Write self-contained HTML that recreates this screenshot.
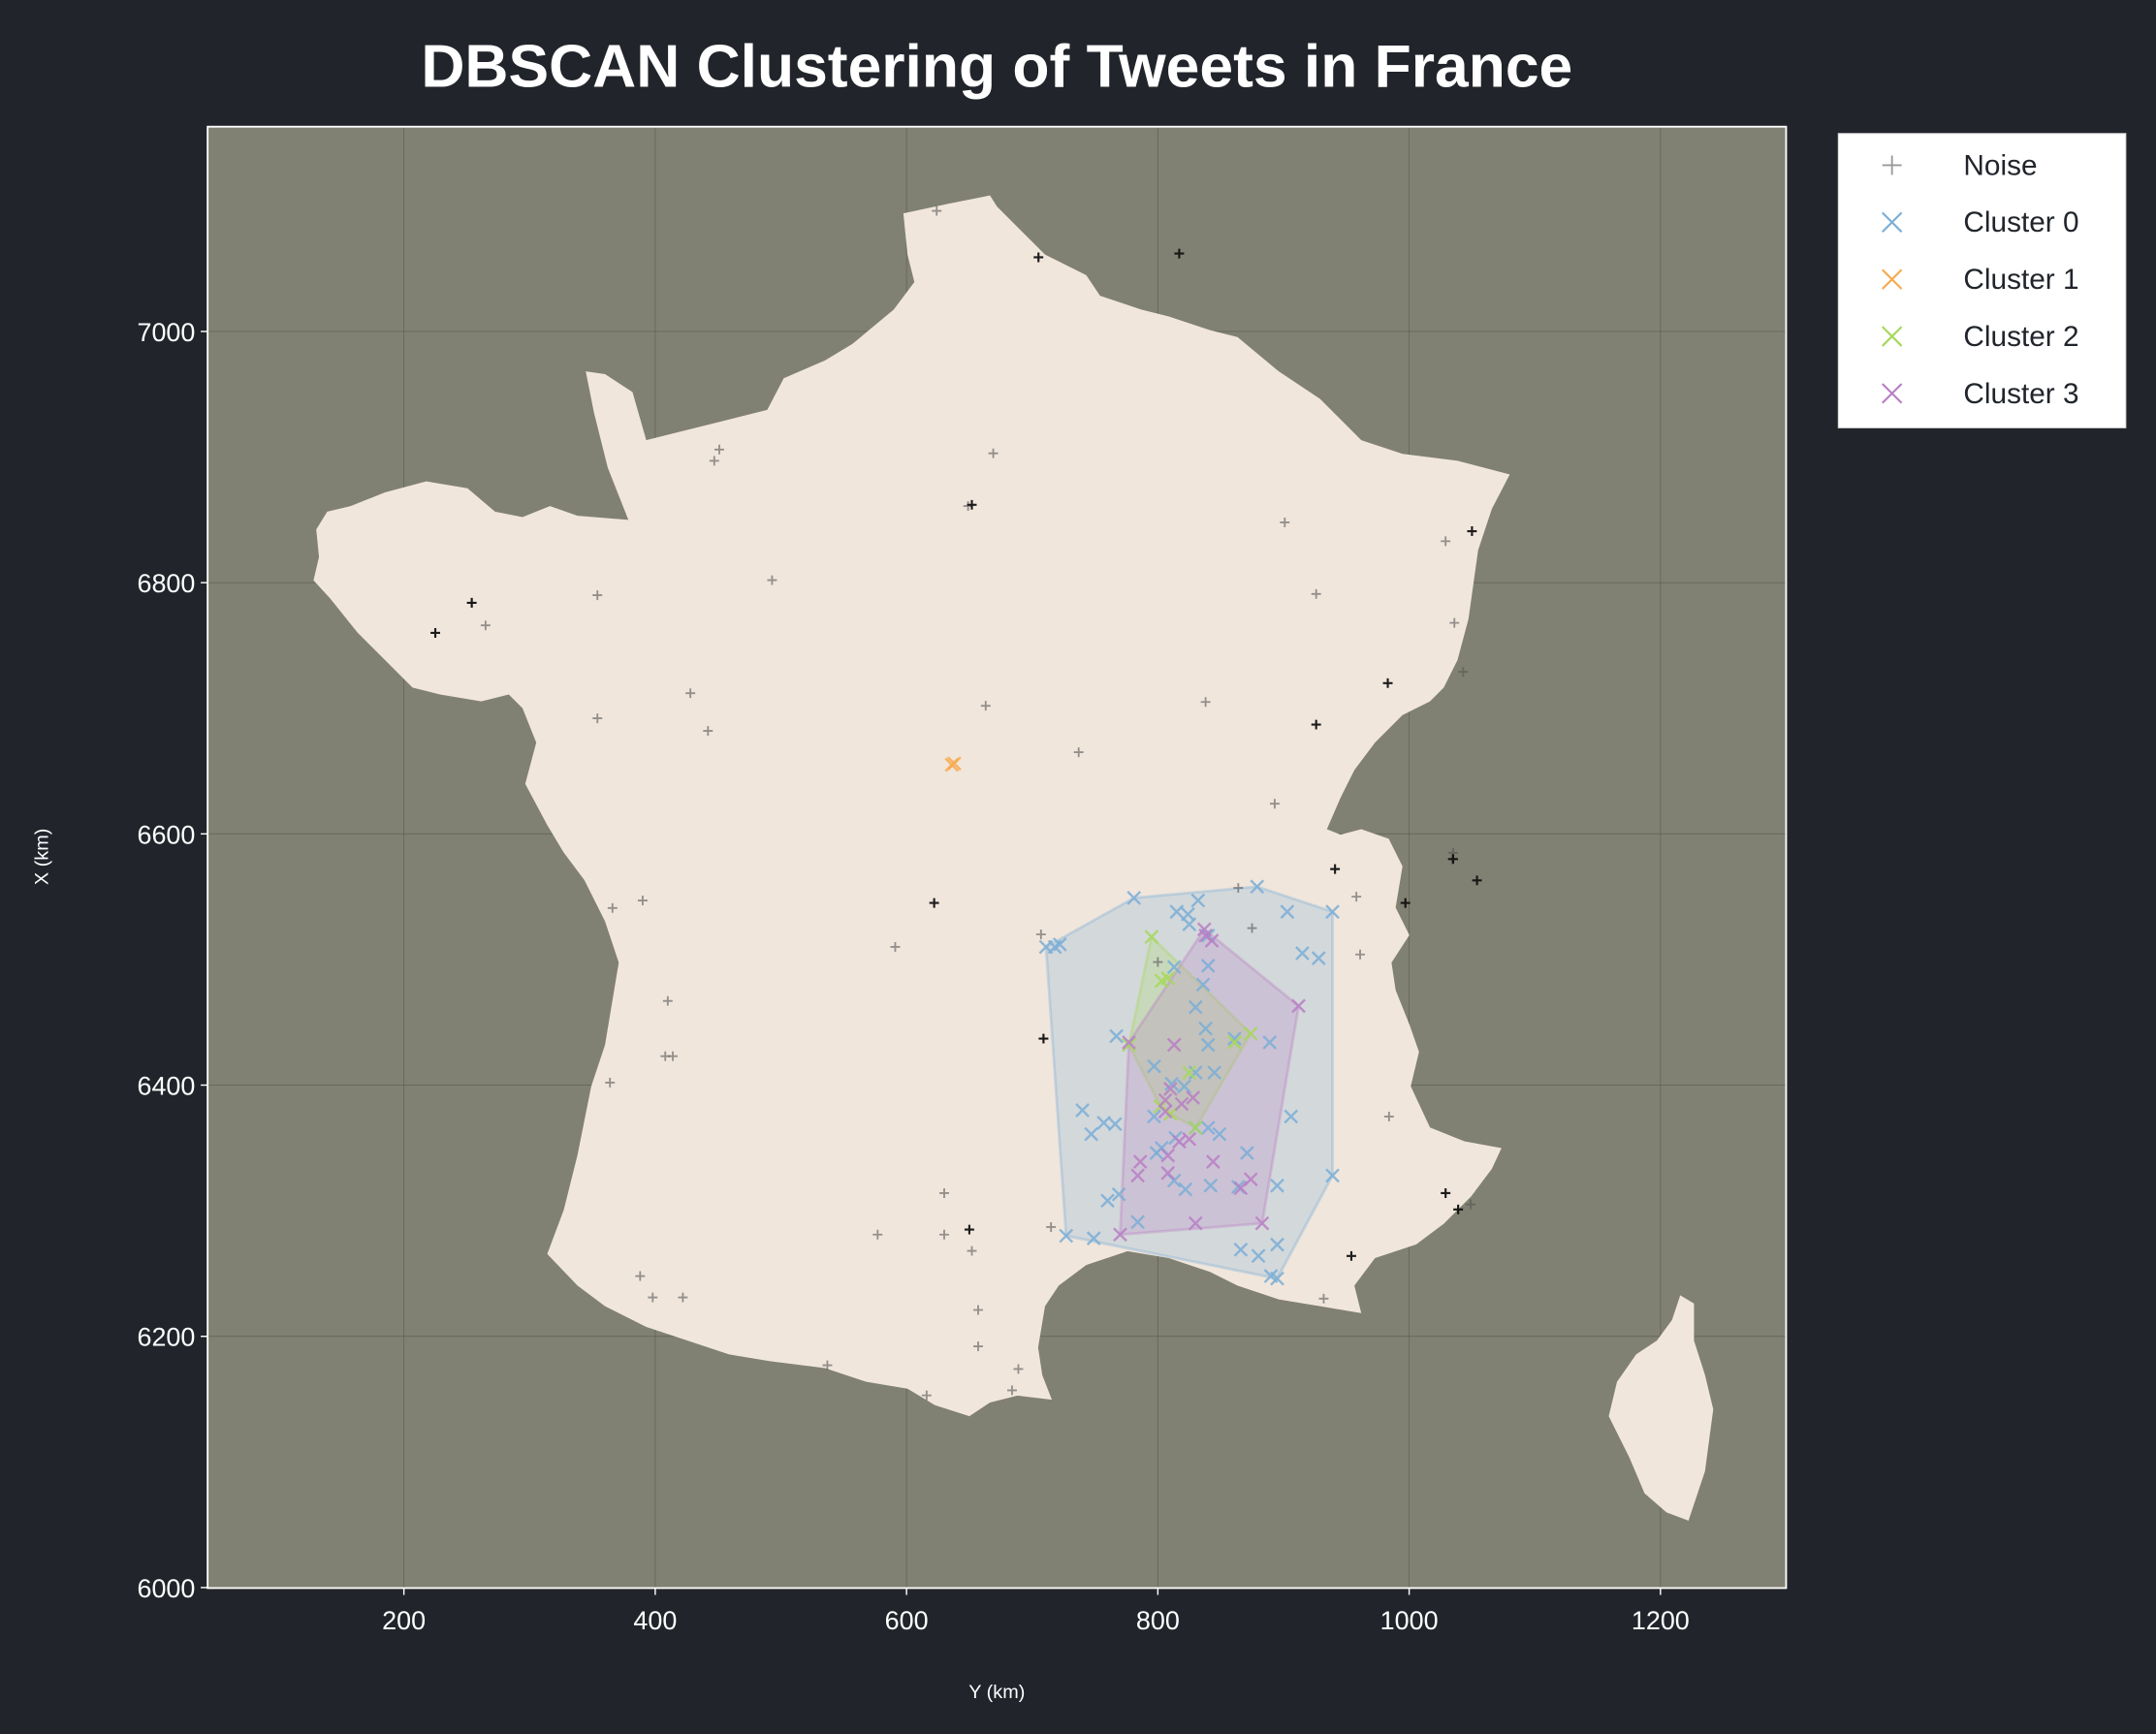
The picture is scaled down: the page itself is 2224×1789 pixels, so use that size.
<!DOCTYPE html>
<html><head><meta charset="utf-8">
<style>
html,body{margin:0;padding:0;background:#21252b;}
svg{display:block;}
text{font-family:"Liberation Sans","DejaVu Sans",sans-serif;}
</style></head>
<body>
<svg id="chart" width="2224" height="1789" viewBox="0 0 1568 1261" xmlns="http://www.w3.org/2000/svg">
<rect x="0" y="0" width="1568" height="1261" fill="#21252b"/>
<text x="725" y="63" text-anchor="middle" font-size="44" font-weight="bold" fill="#ffffff">DBSCAN Clustering of Tweets in France</text>
<rect x="151" y="92" width="1148" height="1063" fill="#808172"/>
<g id="grid"></g>
<g>
<path fill="#f1e6dc" d="M657,155 L690,148 L720,142 L725,150 L745,170 L760,185 L790,200 L800,215 L830,225 L850,230 L880,240 L900,245 L930,270 L960,290 L990,320 L1020,330 L1060,335 L1098,345 L1085,370 L1075,400 L1068,450 L1060,480 L1050,500 L1040,510 L1020,520 L1000,540 L985,560 L975,580 L965,603 L975,607 L990,603 L1010,610 L1020,630 L1015,660 L1025,680 L1012,700 L1015,720 L1025,745 L1032,765 L1026,790 L1040,820 L1065,830 L1092,835 L1085,850 L1070,870 L1050,890 L1030,905 L1000,915 L985,935 L990,955 L960,950 L930,945 L900,935 L880,925 L850,915 L820,910 L790,920 L770,935 L760,950 L755,980 L758,1000 L765,1018 L740,1015 L720,1020 L705,1030 L680,1022 L660,1010 L630,1005 L600,995 L560,990 L530,985 L500,975 L470,965 L440,950 L420,935 L398,912 L410,880 L420,840 L430,790 L440,760 L445,730 L450,700 L440,670 L425,640 L410,620 L398,600 L382,570 L390,540 L380,515 L370,505 L350,510 L320,505 L300,500 L280,480 L260,460 L240,435 L228,422 L232,405 L230,385 L238,372 L255,368 L280,358 L310,350 L340,355 L360,372 L380,376 L400,368 L420,375 L457,378 L442,340 L432,300 L426,270 L440,272 L460,285 L470,320 L490,315 L530,305 L558,298 L570,275 L600,262 L620,250 L650,225 L665,205 L660,185 Z"/>
<path fill="#f1e6dc" d="M1222,942 L1232,948 L1232,975 L1240,1000 L1246,1025 L1240,1070 L1228,1106 L1212,1100 L1196,1086 L1185,1060 L1170,1030 L1176,1005 L1190,985 L1205,975 L1216,960 Z"/>
</g>
<g id="hulls"></g>
<g id="marks"></g>
<rect x="151" y="92" width="1148" height="1063" fill="none" stroke="#ffffff" stroke-width="1.3"/>
<g id="axes"></g>
<text x="725" y="1235" text-anchor="middle" font-size="14" fill="#ffffff">Y (km)</text>
<text x="0" y="0" transform="translate(35,623) rotate(-90)" text-anchor="middle" font-size="14" fill="#ffffff">X (km)</text>
<g>
<rect x="1337" y="97" width="209" height="214" fill="#ffffff" stroke="#dddddd" stroke-width="0.8"/>
<g id="legend-items"></g>
</g>
</svg>
<script>
const xTicks=[200,400,600,800,1000,1200];
const yTicks=[6000,6200,6400,6600,6800,7000];
const noiseX=[624,451,447,669,649,254,265,354,493,428,442,354,663,737,838,901,1029,926,1036,1043,893,1035,1034,958,997,591,390,366,410,414,408,364,709,715,652,630,577,537,616,657,689,684,388,398,422,657,707,961,932,984,1039,1049,864,875,630,800];
const noiseY=[7096,6906,6897,6903,6861,6784,6766,6790,6802,6712,6682,6692,6702,6665,6705,6848,6833,6791,6768,6729,6624,6585,6580,6550,6545,6510,6547,6541,6467,6423,6423,6402,6437,6287,6268,6281,6281,6177,6153,6221,6174,6157,6248,6231,6231,6192,6520,6504,6230,6375,6301,6305,6557,6525,6314,6498];
const darkX=[705,817,652,254,225,1050,983,926,941,1054,997,622,709,650,954,1029,1039,1035];
const darkY=[7059,7062,6862,6784,6760,6841,6720,6687,6572,6563,6545,6545,6437,6285,6264,6314,6301,6580];
const c0X=[718,711,722,781,832,879,903,939,915,928,824,825,815,840,840,836,813,830,838,840,830,797,767,740,747,757,766,797,803,799,814,830,840,849,871,895,939,813,842,822,864,760,769,784,727,749,866,895,895,890,880,906,845,861,889,811,821];
const c0Y=[6510,6510,6512,6549,6547,6558,6538,6538,6505,6501,6536,6528,6538,6519,6495,6480,6494,6462,6445,6432,6410,6415,6439,6380,6361,6370,6369,6375,6350,6346,6358,6366,6366,6361,6346,6320,6328,6324,6320,6317,6319,6308,6313,6291,6280,6278,6269,6273,6246,6248,6264,6375,6410,6437,6434,6401,6399];
const c1X=[636,638];
const c1Y=[6655,6656];
const c2X=[795,808,803,777,861,874,825,810,802,830];
const c2Y=[6518,6485,6483,6432,6434,6441,6410,6377,6383,6366];
const c3X=[838,843,837,912,777,810,806,806,828,819,825,817,808,874,866,883,808,786,784,770,830,844,813];
const c3Y=[6519,6515,6524,6463,6434,6397,6388,6379,6390,6385,6357,6355,6344,6325,6318,6290,6330,6339,6328,6281,6290,6339,6432];
const legendLabels=["Noise","Cluster 0","Cluster 1","Cluster 2","Cluster 3"];
const clusterColors=["#7aaed6","#f7a94e","#a6d85a","#b87fc4"];

const NS="http://www.w3.org/2000/svg";
const X0=151,X1=1299,Y0=92,Y1=1155;
const xMin=43.8,xMax=1300,yMin=5999.6,yMax=7163;
function sx(v){return X0+(v-xMin)/(xMax-xMin)*(X1-X0);}
function sy(v){return Y1-(v-yMin)/(yMax-yMin)*(Y1-Y0);}
function mk(tag,attrs,parent){const e=document.createElementNS(NS,tag);for(const k in attrs)e.setAttribute(k,attrs[k]);parent.appendChild(e);return e;}

const grid=document.getElementById('grid'),axes=document.getElementById('axes');
xTicks.forEach(t=>{
  const l=mk('line',{x1:sx(t),x2:sx(t),y1:Y0,y2:Y1,stroke:'#555548','stroke-width':0.6,'stroke-opacity':0.6},grid);
  
  
  const tk=mk('line',{x1:sx(t),x2:sx(t),y1:Y1,y2:Y1+5,stroke:'#ffffff','stroke-width':1},axes);
  
  
  const tx=mk('text',{x:sx(t),y:Y1+30,'text-anchor':'middle','font-size':19,fill:'#ffffff'},axes);
  tx.textContent=t;
  
  
});
yTicks.forEach(t=>{
  const l=mk('line',{x1:X0,x2:X1,y1:sy(t),y2:sy(t),stroke:'#555548','stroke-width':0.6,'stroke-opacity':0.6},grid);
  
  
  const tk=mk('line',{x1:X0-5,x2:X0,y1:sy(t),y2:sy(t),stroke:'#ffffff','stroke-width':1},axes);
  
  
  const tx=mk('text',{x:X0-9,y:sy(t)+7,'text-anchor':'end','font-size':19,fill:'#ffffff'},axes);
  tx.textContent=t;
  
  
});

function hull(xs,ys){
  const p=xs.map((x,i)=>[sx(x),sy(ys[i])]).sort((a,b)=>a[0]-b[0]||a[1]-b[1]);
  const cr=(o,a,b)=>(a[0]-o[0])*(b[1]-o[1])-(a[1]-o[1])*(b[0]-o[0]);
  const lo=[],up=[];
  for(const q of p){while(lo.length>=2&&cr(lo[lo.length-2],lo[lo.length-1],q)<=0)lo.pop();lo.push(q);}
  for(let i=p.length-1;i>=0;i--){const q=p[i];while(up.length>=2&&cr(up[up.length-2],up[up.length-1],q)<=0)up.pop();up.push(q);}
  up.pop();lo.pop();return lo.concat(up);
}
const hulls=document.getElementById('hulls');
const sets=[[c0X,c0Y],[c1X,c1Y],[c2X,c2Y],[c3X,c3Y]];
sets.forEach((s,i)=>{
  if(s[0].length<3)return;
  const h=hull(s[0],s[1]);
  const pg=mk('polygon',{points:h.map(p=>p.join(',')).join(' '),fill:clusterColors[i],'fill-opacity':0.25,stroke:clusterColors[i],'stroke-opacity':0.35,'stroke-width':2},hulls);
  
  
});

const marks=document.getElementById('marks');
function plus(cx,cy,col,op,r,w,parent){
  return mk('path',{d:`M${cx-r},${cy}H${cx+r}M${cx},${cy-r}V${cy+r}`,stroke:col,'stroke-opacity':op,'stroke-width':w},parent);
}
function cross(cx,cy,col,op,r,w,parent){
  return mk('path',{d:`M${cx-r},${cy-r}L${cx+r},${cy+r}M${cx-r},${cy+r}L${cx+r},${cy-r}`,stroke:col,'stroke-opacity':op,'stroke-width':w},parent);
}
noiseX.forEach((x,i)=>{
  const m=plus(sx(x),sy(noiseY[i]),'#555555',0.6,3.5,1.3,marks);
  
  
});
darkX.forEach((x,i)=>{
  const m=plus(sx(x),sy(darkY[i]),'#111111',0.95,3.5,1.5,marks);
  
  
});
sets.forEach((s,i)=>{
  s[0].forEach((x,j)=>{
    const m=cross(sx(x),sy(s[1][j]),clusterColors[i],0.85,4.6,1.7,marks);
    
    
  });
});

const lg=document.getElementById('legend-items');
legendLabels.forEach((lab,i)=>{
  const y=120+i*41.5;
  let m;
  if(i===0)m=plus(1376,y,'#999999',1,7,1.3,lg);
  else m=cross(1376,y,clusterColors[i-1],1,7,1.5,lg);
  
  
  const t=mk('text',{x:1428,y:y+7,'font-size':21,fill:'#21252b'},lg);
  t.textContent=lab;
  
  
});
</script>
</body></html>
